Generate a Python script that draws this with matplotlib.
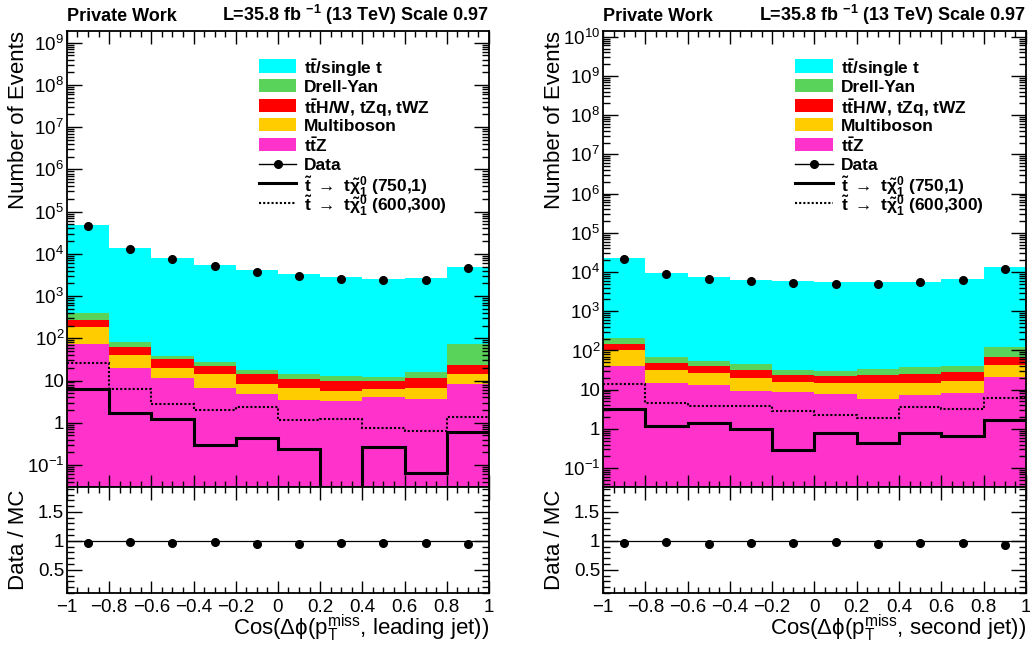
import numpy as np
import matplotlib
matplotlib.use("Agg")
import matplotlib.pyplot as plt
from matplotlib.patches import Rectangle
from matplotlib.lines import Line2D
from matplotlib.ticker import LogLocator, MultipleLocator, FuncFormatter, NullFormatter

plt.rcParams["font.family"] = ["Liberation Sans", "DejaVu Sans"]
plt.rcParams["mathtext.default"] = "regular"

bin_edges = [-1.0, -0.8, -0.6, -0.4, -0.2, 0.0, 0.2, 0.4, 0.6, 0.8, 1.0]

# stack order bottom -> top
process_labels = [r"$t\bar{t}$Z", "Multiboson", r"$t\bar{t}$H/W, tZq, tWZ", "Drell-Yan", r"$t\bar{t}$/single t"]
process_colors = ["#ff33cc", "#ffcc00", "#ff0000", "#59d359", "#00ffff"]
sig_labels = [r"$\tilde{t}\;\rightarrow\;t\tilde{\chi}^{0}_{1}$ (750,1)",
              r"$\tilde{t}\;\rightarrow\;t\tilde{\chi}^{0}_{1}$ (600,300)"]

# cos(dphi(met, leading jet))
lead_ttz = [74, 20, 11.2, 6.7, 4.8, 3.5, 3.2, 4.0, 3.6, 8.3]
lead_multiboson = [109, 20.6, 8.8, 7.3, 3.5, 3.2, 2.3, 2.2, 3.0, 6.1]
lead_ttx = [92, 22.4, 13, 8.5, 6.1, 4.4, 4.1, 3.6, 4.6, 9.1]
lead_dy = [133, 18, 5, 5.2, 3.4, 3.3, 3.4, 2.4, 4.8, 50.5]
lead_ttbar = [48600, 13500, 7860, 5470, 4180, 3290, 2790, 2590, 2630, 4830]
lead_data = [45000, 13000, 7400, 5200, 3700, 3000, 2600, 2400, 2400, 4500]
lead_ratio = [0.966, 0.983, 0.966, 0.977, 0.943, 0.954, 0.96, 0.96, 0.96, 0.95]
lead_sig_750_1 = [6.3, 1.74, 1.25, 0.30, 0.44, 0.24, 0.0, 0.26, 0.066, 0.59]
lead_sig_600_300 = [26.5, 6.3, 2.8, 2.0, 2.4, 1.15, 1.23, 0.77, 0.63, 1.38]

# cos(dphi(met, second jet))
sec_ttz = [41, 15, 12.9, 9.2, 8.7, 7.9, 5.8, 7.4, 8.3, 21.3]
sec_multiboson = [59, 16.6, 14.1, 10.8, 6.8, 6.5, 8.6, 7.3, 8.6, 22.4]
sec_ttx = [48, 17.4, 13, 11, 8.5, 8.5, 9.1, 10.3, 12.1, 25.3]
sec_dy = [62, 18, 15, 13.5, 8, 6.7, 9.5, 13, 11, 54]
sec_ttbar = [22200, 9230, 7245, 6255, 5870, 5470, 5420, 5560, 6560, 13080]
sec_data = [21000, 8700, 6600, 5900, 5300, 5100, 5000, 5500, 6300, 12000]
sec_ratio = [0.97, 0.98, 0.954, 0.966, 0.966, 0.983, 0.954, 0.966, 0.97, 0.937]
sec_sig_750_1 = [3.2, 1.2, 1.43, 0.99, 0.29, 0.77, 0.43, 0.79, 0.66, 1.67]
sec_sig_600_300 = [13.8, 4.5, 3.9, 3.8, 2.9, 2.3, 1.86, 3.6, 3.2, 6.1]


def log_label(v, pos):
    e = int(round(np.log10(v)))
    if e == 0:
        return "1"
    if e == 1:
        return "10"
    return f"$10^{{{e}}}$"


def lin_label(v, pos):
    v = round(v, 3)
    if v == 0:
        return "0"
    return f"{v:g}".replace("-", "\u2212")


def style_axis(ax):
    ax.tick_params(which="both", direction="in", top=True, right=True, labelsize=13.5, width=1.0)
    ax.tick_params(axis="x", which="major", length=9)
    ax.tick_params(axis="x", which="minor", length=4.5)
    ax.tick_params(axis="y", which="major", length=11)
    ax.tick_params(axis="y", which="minor", length=5)
    for s in ax.spines.values():
        s.set_linewidth(1.3)


def draw_legend(ax):
    x0, x1, xt = 0.455, 0.543, 0.562
    y0, dy, h = 0.923, 0.0428, 0.029
    fs = 12.5
    tr = ax.transAxes
    order = list(range(len(process_labels)))[::-1]
    row = 0
    for i in order:
        y = y0 - row * dy
        ax.add_patch(Rectangle((x0, y - h / 2), x1 - x0, h, transform=tr,
                               facecolor=process_colors[i], edgecolor="none", zorder=5))
        ax.text(xt, y, process_labels[i], transform=tr, fontsize=fs, fontweight="bold",
                va="center_baseline", ha="left", zorder=6)
        row += 1
    y = y0 - row * dy
    ax.add_line(Line2D([x0, x1], [y, y], transform=tr, color="k", lw=1.0, zorder=5))
    ax.add_line(Line2D([(x0 + x1) / 2], [y], transform=tr, color="k", marker="o", ms=5.5, zorder=6))
    ax.text(xt, y, "Data", transform=tr, fontsize=fs, fontweight="bold",
            va="center_baseline", ha="left")
    row += 1
    for lab, ls, lw in zip(sig_labels, ["-", (0, (1, 1))], [2.2, 1.5]):
        y = y0 - row * dy
        ax.add_line(Line2D([x0, x1], [y, y], transform=tr, color="k", lw=lw, ls=ls, zorder=5))
        ax.text(xt, y, lab, transform=tr, fontsize=fs, fontweight="bold",
                va="center_baseline", ha="left")
        row += 1


def draw_panel(fig, left, width, stacks, data, ratio, sig1, sig2, xlabel, ylim):
    edges = np.array(bin_edges)
    centers = 0.5 * (edges[1:] + edges[:-1])
    ax = fig.add_axes([left, 0.2519, width, 0.7005])
    rax = fig.add_axes([left, 0.0891, width, 0.1628], sharex=ax)

    ax.set_yscale("log")
    ax.set_xlim(-1, 1)
    ax.set_ylim(*ylim)

    bottom = np.full(len(centers), ylim[0])
    cum = np.zeros(len(centers))
    for vals, col in zip(stacks, process_colors):
        cum = cum + np.array(vals, dtype=float)
        ax.stairs(cum, edges, baseline=bottom, fill=True, color=col, lw=0, zorder=1)
        bottom = cum.copy()

    ax.stairs(np.clip(sig1, ylim[0] * 1.02, None), edges, baseline=None, color="k", lw=2.2, zorder=3)
    ax.stairs(np.clip(sig2, ylim[0] * 1.02, None), edges, baseline=None, color="k", lw=1.5,
              ls=(0, (1, 1)), zorder=3)
    ax.plot(centers, data, "o", color="k", ms=5.5, zorder=4)

    ax.yaxis.set_major_locator(LogLocator(base=10, numticks=100))
    ax.yaxis.set_minor_locator(LogLocator(base=10, subs=np.arange(2, 10) * 1.0, numticks=100))
    ax.yaxis.set_major_formatter(FuncFormatter(log_label))
    ax.yaxis.set_minor_formatter(NullFormatter())
    style_axis(ax)
    ax.tick_params(labelbottom=False, pad=2)
    ax.set_ylabel("Number of Events", fontsize=16, loc="top")
    ax.yaxis.set_label_coords(-0.09, 1.0)

    ax.text(0, 1.021, "Private Work", transform=ax.transAxes, fontsize=13, fontweight="bold",
            ha="left", va="baseline")
    ax.text(1, 1.021, r"L=35.8 fb $^{-1}$ (13 TeV) Scale 0.97", transform=ax.transAxes,
            fontsize=13, fontweight="bold", ha="right", va="baseline")
    draw_legend(ax)

    rax.axhline(1, color="k", lw=0.9, zorder=1)
    rax.plot(centers, ratio, "o", color="k", ms=5.5, zorder=3)
    rax.set_ylim(0.1, 1.93)
    rax.xaxis.set_major_locator(MultipleLocator(0.2))
    rax.xaxis.set_minor_locator(MultipleLocator(0.05))
    rax.xaxis.set_major_formatter(FuncFormatter(lin_label))
    rax.yaxis.set_major_locator(MultipleLocator(0.5))
    rax.yaxis.set_minor_locator(MultipleLocator(0.1))
    rax.yaxis.set_major_formatter(FuncFormatter(lin_label))
    style_axis(rax)
    rax.tick_params(axis="x", pad=4)
    rax.tick_params(axis="y", pad=2)
    rax.set_ylabel("Data / MC", fontsize=16)
    rax.yaxis.set_label_coords(-0.09, 0.5)
    rax.set_xlabel(xlabel, fontsize=16, loc="right")
    rax.xaxis.set_label_coords(1.0, -0.19)
    rax.xaxis.label.set_va("top")
    return ax, rax


def main():
    fig = plt.figure(figsize=(10.3, 6.51), dpi=100)
    draw_panel(fig, 0.0650, 0.4097,
               [lead_ttz, lead_multiboson, lead_ttx, lead_dy, lead_ttbar],
               lead_data, lead_ratio, lead_sig_750_1, lead_sig_600_300,
               "Cos(\u0394\u03d5($p_{T}^{miss}$, leading jet))", (0.03, 1.9e9))
    draw_panel(fig, 0.5854, 0.4107,
               [sec_ttz, sec_multiboson, sec_ttx, sec_dy, sec_ttbar],
               sec_data, sec_ratio, sec_sig_750_1, sec_sig_600_300,
               "Cos(\u0394\u03d5($p_{T}^{miss}$, second jet))", (0.033, 1.4e10))
    fig.savefig("out.png", dpi=100)


if __name__ == "__main__":
    main()
